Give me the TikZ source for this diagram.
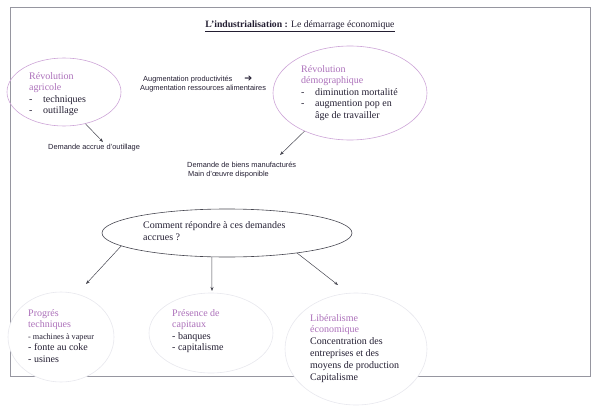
\documentclass[tikz,border=0pt]{standalone}
\usepackage{fontspec}
\setmainfont{Liberation Serif}
\setsansfont{Liberation Sans}
\newfontfamily\symfont{DejaVu Sans}
\usetikzlibrary{shapes.geometric,arrows.meta}
\definecolor{lila}{RGB}{172,112,186}
\definecolor{lilaline}{RGB}{205,165,215}
\definecolor{paleline}{RGB}{232,232,238}
\definecolor{frameline}{RGB}{150,150,160}
\definecolor{ink}{RGB}{35,30,50}
\definecolor{arrowgrey}{RGB}{70,70,80}
\newcommand{\head}[1]{\textcolor{lila}{#1}}
\newcommand{\tiret}[1]{\makebox[14pt][l]{-}#1}
\tikzset{
  bubble/.style={ellipse, draw=lilaline, line width=0.6pt, inner sep=0pt},
  palebubble/.style={ellipse, draw=paleline, fill=white, line width=0.6pt, inner sep=0pt},
  serif/.style={anchor=north west, inner sep=0pt, align=left, text=ink, font=\fontsize{10}{11.5}\selectfont},
  sans/.style={anchor=north west, inner sep=0pt, align=left, text=ink, font=\sffamily\fontsize{7.4}{9}\selectfont},
  link/.style={draw=arrowgrey, line width=0.5pt, -{Stealth[length=4pt,width=3pt]}}
}
\begin{document}
\begin{tikzpicture}[x=1pt,y=-1pt]
  \useasboundingbox (0,0) rectangle (599,412);
  %%%%% frame and title %%%%%
  \draw[frameline, line width=0.6pt] (10,7) rectangle (590,376);
  \node[anchor=base, inner sep=0pt, text=ink, font=\fontsize{9.7}{12}\selectfont] (title) at (300,28)
    {\underline{\textbf{L’industrialisation :} Le démarrage économique}};

  %%%%% first row %%%%%
  \node[bubble, minimum width=114pt, minimum height=68pt] (agri) at (64,92) {};
  \node[serif] (agritext) at (29,72)
    {\head{Révolution}\\ \head{agricole}\\ \tiret{techniques}\\ \tiret{outillage}};

  \node[bubble, minimum width=154pt, minimum height=94pt] (demo) at (350,93) {};
  \node[serif] (demotext) at (301,65)
    {\head{Révolution}\\ \head{démographique}\\ \tiret{diminution mortalité}\\
     \tiret{augmention pop en}\\ \hspace*{14pt}âge de travailler};

  \node[sans] (augm) at (140,76)
    {\hspace*{3pt}Augmentation productivités\hspace{12pt}{\symfont\fontsize{9.5}{9}\selectfont ➔}\\
     Augmentation ressources alimentaires};

  \node[sans] (outil) at (48,144) {Demande accrue d’outillage};
  \coordinate (outiltip) at (103,142);
  \draw[link] (agri.-56) -- (outiltip);

  \node[sans] (biens) at (187,162)
    {Demande de biens manufacturés\\ \hspace*{1pt}Main d’œuvre disponible};
  \coordinate (bienstip) at (280,155);
  \draw[link] (demo.220) -- (bienstip);

  %%%%% question %%%%%
  \node[ellipse, draw=arrowgrey, line width=0.6pt, inner sep=0pt,
        minimum width=250pt, minimum height=48pt] (quest) at (227,233) {};
  \node[serif, font=\fontsize{10}{12.5}\selectfont] (questtext) at (143,221)
    {Comment répondre à ces demandes\\ accrues ?};

  %%%%% bottom row %%%%%
  \node[palebubble, minimum width=106pt, minimum height=90pt] (prog) at (61,337) {};
  \node[serif] (progtext) at (28,309)
    {\head{Progrés}\\ \head{techniques}\\ {\fontsize{8.2}{11.5}\selectfont - machines à vapeur}\\
     - fonte au coke\\ - usines};

  \node[palebubble, minimum width=124pt, minimum height=80pt] (capi) at (211,333) {};
  \node[serif] (capitext) at (172,309)
    {\head{Présence de}\\ \head{capitaux}\\ - banques\\ - capitalisme};

  \node[palebubble, minimum width=142pt, minimum height=112pt] (libe) at (356,349) {};
  \node[serif, font=\fontsize{10}{11.8}\selectfont] (libetext) at (310,314)
    {\head{Libéralisme}\\ \head{économique}\\ Concentration des\\ entreprises et des\\
     moyens de production\\ Capitalisme};

  \coordinate (progtip) at (86,284);
  \coordinate (capitip) at (212,291);
  \coordinate (libetip) at (338,285);
  \draw[link] (quest.187) -- (progtip);
  \draw[link] (quest.238) -- (capitip);
  \draw[link] (quest.-16) -- (libetip);
\end{tikzpicture}
\end{document}
